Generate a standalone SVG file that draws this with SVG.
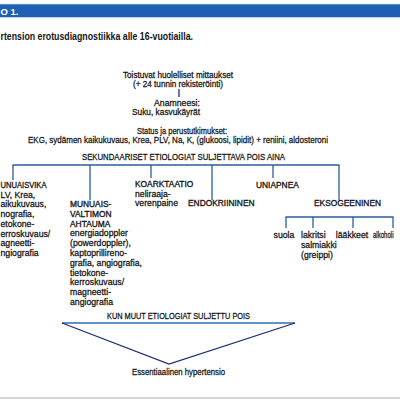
<svg xmlns="http://www.w3.org/2000/svg" width="400" height="400" viewBox="0 0 400 400">
<style>
text{font-family:"Liberation Sans Narrow","Liberation Sans","DejaVu Sans Condensed",sans-serif;font-size:8.7px;fill:#151515;stroke:#151515;stroke-width:0.26}
.c{text-anchor:middle}
.k{font-size:8.4px;stroke-width:0.32}
.t{font-weight:bold;font-size:10px;stroke-width:0}
.ln{stroke:#2b5d99;stroke-width:1.3;fill:none}
.nv{stroke:#1c2c78;stroke-width:1.3;fill:none}
</style>
<rect x="0" y="0" width="400" height="400" fill="#ffffff"/>
<g id="banner">
<rect x="0" y="4" width="400" height="13" fill="#1f5fb4"/>
<line x1="0" y1="4.3" x2="400" y2="4.3" stroke="#7fa6d9" stroke-width="0.8"/>
<line x1="0" y1="17.6" x2="400" y2="17.6" stroke="#a9c4e8" stroke-width="0.8"/>
<text x="0.5" y="14.5" class="t" style="fill:#ffffff;font-size:9.5px">O 1.</text>
</g>
<text id="title" x="0.5" y="39.5" class="t" textLength="192.5" lengthAdjust="spacingAndGlyphs">rtension erotusdiagnostiikka alle 16-vuotiailla.</text>
<g id="connectors">
<line class="nv" x1="179" y1="89" x2="179" y2="97"/>
<line class="ln" x1="12.5" y1="165" x2="339.5" y2="165"/>
<line class="ln" x1="13" y1="165" x2="13" y2="180"/>
<line class="ln" x1="90" y1="165" x2="90" y2="200"/>
<line class="ln" x1="151" y1="165" x2="151" y2="178"/>
<line class="ln" x1="212" y1="165" x2="212" y2="200"/>
<line class="ln" x1="273" y1="165" x2="273" y2="178"/>
<line class="ln" x1="339" y1="165" x2="339" y2="200"/>
<line class="ln" x1="285.5" y1="217" x2="393.5" y2="217"/>
<line class="ln" x1="286" y1="217" x2="286" y2="228"/>
<line class="ln" x1="313" y1="217" x2="313" y2="228"/>
<line class="ln" x1="353" y1="217" x2="353" y2="228"/>
<line class="ln" x1="393" y1="217" x2="393" y2="228"/>
<line x1="62" y1="323" x2="295" y2="323" stroke="#2e6bb5" stroke-width="1.3"/>
<polyline class="nv" points="62,323 169,364 295,323"/>
</g>
<g id="n-mittaukset">
<text class="c" x="178" y="78" textLength="110" lengthAdjust="spacingAndGlyphs">Toistuvat huolelliset mittaukset</text>
<text class="c" x="178" y="87" textLength="90" lengthAdjust="spacingAndGlyphs">(+ 24 tunnin rekisteröinti)</text>
</g>
<g id="n-anamneesi">
<text class="c" x="177" y="106">Anamneesi:</text>
<text class="c" x="166" y="115" textLength="68" lengthAdjust="spacingAndGlyphs">Suku, kasvukäyrät</text>
</g>
<g id="n-status">
<text class="c" x="182" y="134" textLength="90" lengthAdjust="spacingAndGlyphs">Status ja perustutkimukset:</text>
<text class="c" x="178" y="143" textLength="300" lengthAdjust="spacingAndGlyphs">EKG, sydämen kaikukuvaus, Krea, PLV, Na, K, (glukoosi, lipidit) + reniini, aldosteroni</text>
</g>
<g id="n-sekundaariset">
<text class="c" x="183.5" y="160" textLength="203" lengthAdjust="spacingAndGlyphs">SEKUNDAARISET ETIOLOGIAT SULJETTAVA POIS AINA</text>
</g>
<g id="n-munuaisvika">
<text class="k" x="0.5" y="188" textLength="46" lengthAdjust="spacingAndGlyphs">UNUAISVIKA</text>
<text x="0.5" y="197.7">LV, Krea,</text>
<text x="0.5" y="207.4">aikukuvaus,</text>
<text x="0.5" y="217.1">nografia,</text>
<text x="0.5" y="226.8">etokone-</text>
<text x="0.5" y="236.5">erroskuvaus/</text>
<text x="0.5" y="246.2">agneetti-</text>
<text x="0.5" y="255.9">ngiografia</text>
</g>
<g id="n-munuaisvaltimo">
<text class="k" x="70" y="207">MUNUAIS-</text>
<text class="k" x="70" y="216.8">VALTIMON</text>
<text class="k" x="70" y="226.6">AHTAUMA</text>
<text x="70" y="236.4">energiadoppler</text>
<text x="70" y="246.2">(powerdoppler),</text>
<text x="70" y="256">kaptoprillireno-</text>
<text x="70" y="265.8">grafia, angiografia,</text>
<text x="70" y="275.6">tietokone-</text>
<text x="70" y="285.4">kerroskuvaus/</text>
<text x="70" y="295.2">magneetti-</text>
<text x="70" y="305">angiografia</text>
</g>
<g id="n-koarktaatio">
<text class="k" x="135" y="187">KOARKTAATIO</text>
<text x="135" y="196.5">neliraaja-</text>
<text x="135" y="206">verenpaine</text>
</g>
<g id="n-endokriininen">
<text class="k" x="188" y="206">ENDOKRIININEN</text>
</g>
<g id="n-uniapnea">
<text class="k" x="256" y="188">UNIAPNEA</text>
</g>
<g id="n-eksogeeninen">
<text class="k" x="314" y="206">EKSOGEENINEN</text>
</g>
<g id="n-suola"><text class="c" x="284" y="238">suola</text></g>
<g id="n-lakritsi">
<text x="301" y="238">lakritsi</text>
<text x="301" y="248">salmiakki</text>
<text x="301" y="258">(greippi)</text>
</g>
<g id="n-laakkeet"><text class="c" x="352" y="238">lääkkeet</text></g>
<g id="n-alkoholi"><text x="373" y="238" textLength="20.5" lengthAdjust="spacingAndGlyphs">alkoholi</text></g>
<g id="n-kun-muut">
<text class="c" x="178.5" y="319" textLength="143" lengthAdjust="spacingAndGlyphs">KUN MUUT ETIOLOGIAT SULJETTU POIS</text>
</g>
<g id="n-essentiaalinen">
<text class="c" x="178.5" y="375" textLength="93" lengthAdjust="spacingAndGlyphs">Essentiaalinen hypertensio</text>
</g>
<line x1="0" y1="398" x2="400" y2="398" stroke="#c8c8c8" stroke-width="1.5"/>
</svg>
